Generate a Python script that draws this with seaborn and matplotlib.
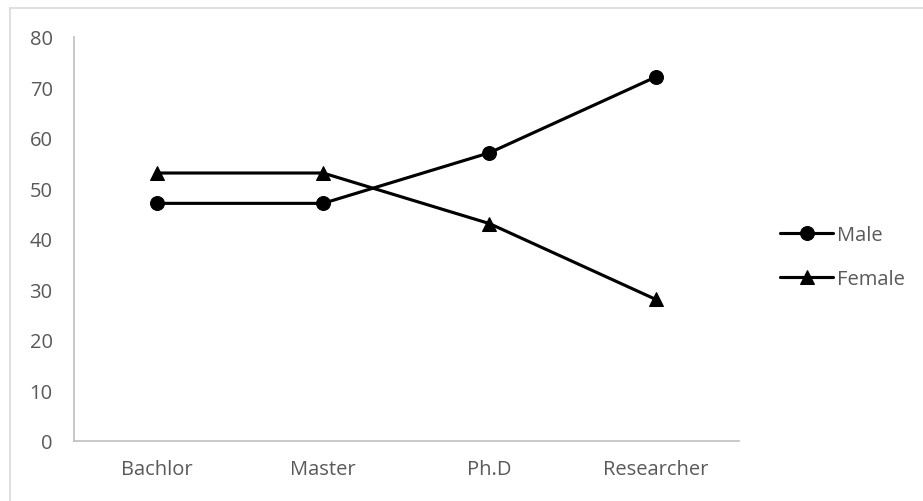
import matplotlib
matplotlib.use("Agg")
import matplotlib.pyplot as plt
import seaborn as sns
import pandas as pd

categories = ["Bachlor", "Master", "Ph.D", "Researcher"]
male = [47, 47, 57, 72]
female = [53, 53, 43, 28]
series_names = ["Male", "Female"]
yticks = [0, 10, 20, 30, 40, 50, 60, 70, 80]

df = pd.DataFrame({
    "Category": categories * 2,
    "Value": male + female,
    "Series": [series_names[0]] * 4 + [series_names[1]] * 4,
})

sns.set_style("white")
plt.rcParams['font.family'] = ['Open Sans', 'DejaVu Sans']

W, H = 923, 502
fig = plt.figure(figsize=(W / 100, H / 100), dpi=100)
ax = fig.add_axes([73.5 / W, (H - 442) / H, (739 - 73.5) / W, (442 - 37.5) / H])

sns.lineplot(data=df, x="Category", y="Value", hue="Series", style="Series",
             markers={"Male": "o", "Female": "^"}, dashes=False,
             palette={"Male": "black", "Female": "black"},
             linewidth=2.25, markersize=10, markeredgecolor="black",
             sort=False, ax=ax, legend=True)

ax.set_xlim(-0.5, 3.5)
ax.set_ylim(0, 80)
ax.set_yticks(yticks)
ax.set_xlabel("")
ax.set_ylabel("")
for s in ["top", "right"]:
    ax.spines[s].set_visible(False)
for s in ["left", "bottom"]:
    ax.spines[s].set_color("#BFBFBF")
    ax.spines[s].set_linewidth(1.2)
ax.tick_params(axis="both", length=0, labelsize=14.5, colors="#595959")
ax.tick_params(axis="y", pad=15)
ax.tick_params(axis="x", pad=13)

handles, labels = ax.get_legend_handles_labels()
ax.get_legend().remove()
fig.legend(handles, labels, loc="center left", bbox_to_anchor=(762 / W, 1 - 258 / H),
           frameon=False, fontsize=14.5, labelcolor="#595959",
           handlelength=2.65, handletextpad=0.15, labelspacing=1.2)

# outer chart border (only top and left visible)
fig.add_artist(plt.Line2D([10 / W, 1], [1 - 9 / H, 1 - 9 / H], transform=fig.transFigure,
                          color="#D9D9D9", linewidth=1.2))
fig.add_artist(plt.Line2D([10 / W, 10 / W], [0, 1 - 9 / H], transform=fig.transFigure,
                          color="#D9D9D9", linewidth=1.2))

fig.savefig("out.png", dpi=100, facecolor="white")
